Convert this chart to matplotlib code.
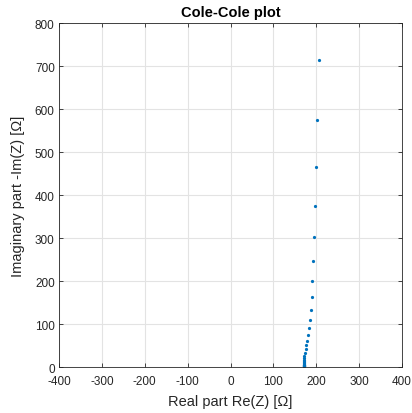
import numpy as np
import matplotlib.pyplot as plt

plt.rcParams['font.family'] = ['Liberation Sans', 'DejaVu Sans']
plt.rcParams['axes.unicode_minus'] = False

# impedance points (real part, -imag part), in ohm
re_z = [206, 202, 199.2, 196.9, 194.6, 192.3, 190.8, 189.2, 186.9, 185.4,
        183.1, 180.8, 178.5, 176.9, 175.4, 173.8, 172.3, 171.6, 171.1, 170.8,
        170.6, 170.5, 170.5, 170.6, 170.7, 170.8, 170.9, 171.0, 171.1, 171.2]
neg_im_z = [714, 575, 464.5, 374.9, 302.4, 245.5, 199.5, 162.9, 133.3, 109.1,
            90.4, 74.8, 61.6, 51.4, 41.3, 33.5, 25.7, 20.7, 16.7, 13.5,
            10.9, 8.8, 7.1, 5.7, 4.6, 3.7, 3.0, 2.4, 1.9, 1.5]

xticks = np.arange(-400, 401, 100)
yticks = np.arange(0, 801, 100)

axcol = '#262626'
fig = plt.figure(figsize=(4.12, 4.14), dpi=100)
ax = fig.add_axes([0.143, 0.111, 0.833, 0.831])
ax.plot(re_z, neg_im_z, '.', color='#0072BD', markersize=2.6)

ax.set_xlim(-400, 400)
ax.set_ylim(0, 800)
ax.set_xticks(xticks)
ax.set_yticks(yticks)
ax.grid(True, color='#e3e3e3', linewidth=0.8)
ax.set_axisbelow(True)
ax.tick_params(direction='in', top=True, right=True, length=3, width=0.6,
               labelsize=8.5, colors=axcol)
ax.tick_params(axis='x', pad=6)
ax.tick_params(axis='y', pad=3)
for s in ax.spines.values():
    s.set_color(axcol)
    s.set_linewidth(0.6)

ax.set_xlabel('Real part Re(Z) [Ω]', fontsize=10.5, color=axcol, labelpad=5)
ax.set_ylabel('Imaginary part -Im(Z) [Ω]', fontsize=10.5, color=axcol, labelpad=7)
ax.set_title('Cole-Cole plot', fontsize=10.5, fontweight='bold', pad=5)

fig.savefig('out.png', dpi=100)
